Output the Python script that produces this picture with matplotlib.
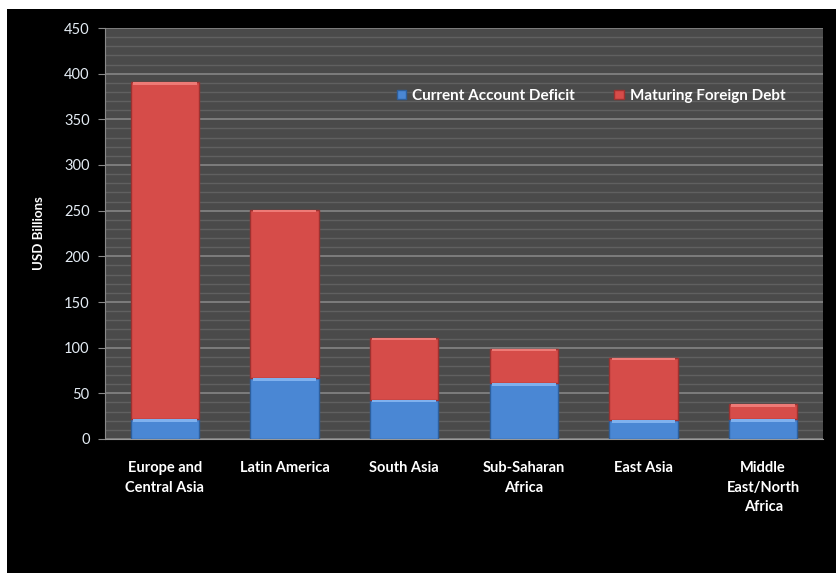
import numpy as np
from matplotlib import pyplot as plt
from matplotlib.patches import Rectangle

# datos
regiones = ["Europe and\nCentral Asia", "Latin America", "South Asia",
            "Sub-Saharan\nAfrica", "East Asia", "Middle\nEast/North\nAfrica"]
deficit = [22, 67, 43, 61, 21, 22]
deuda = [369, 184, 68, 38, 68, 16]

plt.rcParams['font.family'] = ['Lato', 'DejaVu Sans']

fig = plt.figure(figsize=(8.36, 5.73), dpi=100, facecolor="white")
# fondo negro, dejando la franja blanca arriba y a la izquierda
fig.patches.append(Rectangle((7 / 836, 0), 1, 1 - 9 / 573, transform=fig.transFigure,
                             facecolor="black", edgecolor="none", zorder=-5))

ax = fig.add_axes([105 / 836, 1 - 439 / 573, (823 - 105) / 836, (439 - 28) / 573])
ax.set_facecolor("#4a4a4a")

x = np.arange(len(regiones))
ancho = 0.57

b1 = ax.bar(x, deficit, ancho, color="#4a87d4", edgecolor="#2e5f9c", linewidth=1.0,
            label="Current Account Deficit", zorder=3)
b2 = ax.bar(x, deuda, ancho, bottom=deficit, color="#d64c49", edgecolor="#9c3230",
            linewidth=1.0, label="Maturing Foreign Debt", zorder=3)

# brillo arriba de cada segmento (efecto bisel)
for barras, col in [(b1, "#7fb1ee"), (b2, "#ee7a76")]:
    for r in barras:
        ax.add_patch(Rectangle((r.get_x() + 0.02, r.get_y() + r.get_height() - 3),
                               r.get_width() - 0.04, 3, facecolor=col,
                               edgecolor="none", zorder=4))

ax.set_xlim(-0.5, len(regiones) - 0.5)
ax.set_ylim(0, 450)
ax.set_yticks(np.arange(0, 451, 50))
ax.set_yticks(np.arange(0, 451, 10), minor=True)
ax.grid(axis="y", which="major", color="#8a8a8a", linewidth=1.1, zorder=1)
ax.grid(axis="y", which="minor", color="#606060", linewidth=1.0, zorder=1)

ax.set_xticks(x)
ax.set_xticklabels(regiones, color="white", fontsize=10.5, fontweight="bold",
                   linespacing=1.5, va="top")
ax.tick_params(axis="x", length=0, pad=16)
ax.tick_params(axis="y", which="major", colors="#8a8a8a", labelcolor="#e4ecf4",
               labelsize=10.5, length=5, pad=6)
ax.tick_params(axis="y", which="minor", length=0)

for lado in ["top", "right"]:
    ax.spines[lado].set_visible(False)
ax.spines["left"].set_color("#8a8a8a")
ax.spines["bottom"].set_color("#9a9a9a")

ax.set_ylabel("USD Billions", color="white", fontsize=9.5, fontweight="bold", labelpad=14)

leg = ax.legend(loc="upper left", bbox_to_anchor=(0.387, 0.885), ncol=2, frameon=False,
                fontsize=11, handlelength=0.6, handleheight=0.6, columnspacing=2.6,
                handletextpad=0.4)
for t in leg.get_texts():
    t.set_color("white")
    t.set_fontweight("bold")

fig.savefig("out.png", dpi=100, facecolor=fig.get_facecolor())
